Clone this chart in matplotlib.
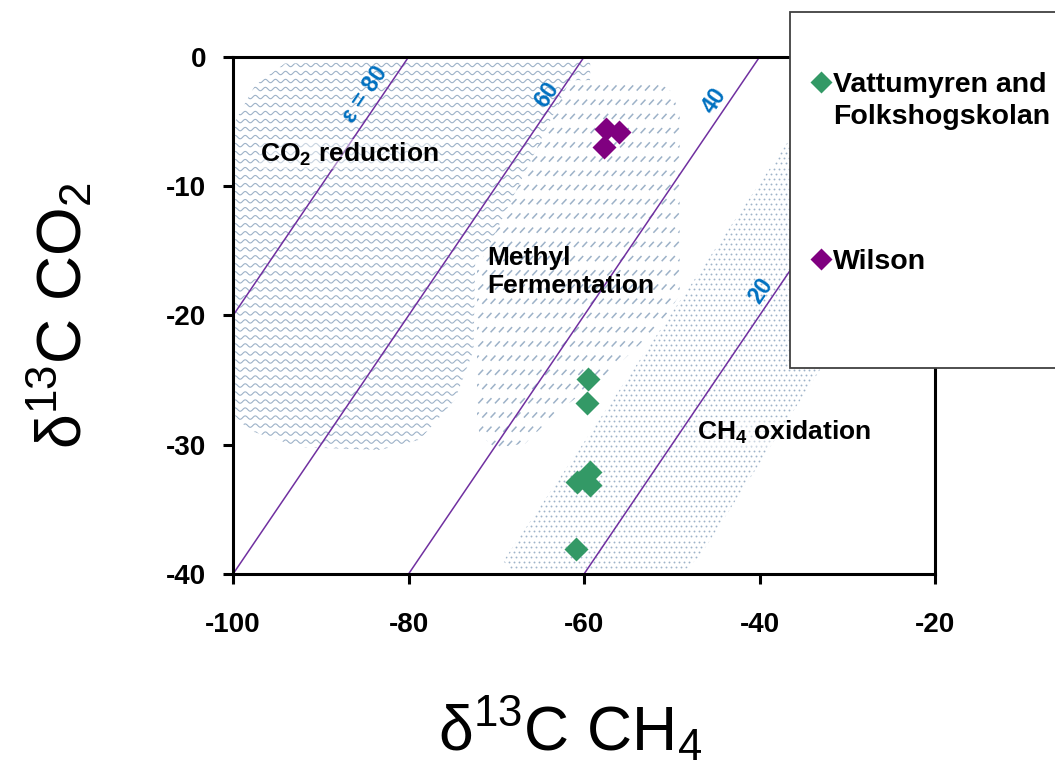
import numpy as np
import matplotlib
matplotlib.use("Agg")
import matplotlib.pyplot as plt
from matplotlib.patches import Polygon, Rectangle
from matplotlib.collections import LineCollection
from matplotlib.lines import Line2D

plt.rcParams["font.family"] = ["Liberation Sans", "DejaVu Sans"]
plt.rcParams["mathtext.default"] = "regular"
plt.rcParams["axes.unicode_minus"] = False

# samples: d13C CH4 (x) and d13C CO2 (y)
vf_ch4 = [-59.5, -59.7, -59.3, -60.8, -59.3, -60.9]
vf_co2 = [-24.9, -26.8, -32.1, -32.9, -33.1, -38.1]
wilson_ch4 = [-57.5, -56.0, -57.7]
wilson_co2 = [-5.6, -5.8, -7.0]

# fractionation lines, CO2 = CH4 + eps
eps_values = [80, 60, 40, 20]
eps_labels = ["\u03b5 = 80", "60", "40", "20"]
eps_label_x = [-85.0, -64.2, -45.2, -39.8]
eps_label_y = [-2.9, -2.9, -3.4, -18.1]

# process fields, outlines
co2_red_x = [-100.5, -99.7, -97.5, -94.1, -59.3, -59.3, -72.4, -72.6, -74.7, -78.7, -83.2, -92.4, -98.1, -100.5]
co2_red_y = [-4.9, -4.9, -2.2, -0.5, -0.2, -7.2, -15.7, -22.7, -26.5, -29.6, -30.4, -30.2, -28.9, -27.3]
methyl_x = [-61.6, -51.9, -50.0, -49.1, -49.1, -51.3, -56.7, -63.1, -66.7, -70.1, -71.9, -72.2, -72.2]
methyl_y = [-1.8, -1.8, -2.7, -4.5, -18.4, -20.7, -24.2, -27.5, -29.9, -30.25, -29.2, -28.1, -16.5]
oxid_x = [-69.2, -68.3, -48.5, -46.8, -33.3, -18.0, -18.0, -33.0, -36.5]
oxid_y = [-39.0, -39.7, -39.7, -38.6, -24.4, -8.0, -3.0, -3.0, -6.3]

x_ticks = [-100, -80, -60, -40, -20]
y_ticks = [0, -10, -20, -30, -40]

green = "#339966"
purple = "#800080"
line_col = "#7030A0"
label_blue = "#0070C0"
tex_col = "#9DB2C8"

fig = plt.figure(figsize=(10.55, 7.72), dpi=100)
ax = fig.add_axes([0.2209, 0.2565, 0.6654, 0.6697])
ax.set_xlim(-100, -20)
ax.set_ylim(-40, 0)

# CO2 reduction field: wavy texture
co2_patch = Polygon(np.column_stack([co2_red_x, co2_red_y]), closed=True,
                    facecolor="none", edgecolor="none", zorder=1)
ax.add_patch(co2_patch)
xs = np.linspace(-101, -58, 900)
waves = [np.column_stack([xs, y0 + 0.13 * np.sin(2 * np.pi * xs / 1.15)])
         for y0 in np.arange(-31, 0.5, 0.62)]
lc = LineCollection(waves, colors=tex_col, linewidths=0.8, zorder=1.1)
ax.add_collection(lc)
lc.set_clip_path(co2_patch)

# methyl fermentation field: white fill + slanted dashes
methyl_patch = Polygon(np.column_stack([methyl_x, methyl_y]), closed=True,
                       facecolor="white", edgecolor="none", zorder=1.3)
ax.add_patch(methyl_patch)
dashes = []
for i, y0 in enumerate(np.arange(-31, -1, 1.1)):
    for x0 in np.arange(-73, -48, 0.95) + (i % 2) * 0.45:
        dashes.append([(x0, y0 - 0.2), (x0 + 0.55, y0 + 0.2)])
dc = LineCollection(dashes, colors=tex_col, linewidths=1.1, zorder=1.4)
ax.add_collection(dc)
dc.set_clip_path(methyl_patch)

# CH4 oxidation field: dots
oxid_patch = Polygon(np.column_stack([oxid_x, oxid_y]), closed=True,
                     facecolor="none", edgecolor="none", zorder=1)
ax.add_patch(oxid_patch)
gx, gy = np.meshgrid(np.arange(-72, -15, 0.57), np.arange(-41, 0, 0.39))
gx[::2] += 0.285
sc = ax.scatter(gx.ravel(), gy.ravel(), s=1.8, c=tex_col, linewidths=0, zorder=1.5)
sc.set_clip_path(oxid_patch)

# epsilon lines
xl = np.array([-100, -20])
for eps in eps_values:
    ax.plot(xl, xl + eps, color=line_col, lw=1.1, zorder=2)
for lab, lx, ly in zip(eps_labels, eps_label_x, eps_label_y):
    ax.text(lx, ly, lab, color=label_blue, fontsize=16.5, fontweight="bold",
            rotation=56, ha="center", va="center", zorder=3)

txt_box = dict(facecolor="white", alpha=0.45, edgecolor="none", pad=1)
ax.text(-96.9, -8.1, "CO$_2$ reduction", fontsize=19, fontweight="bold",
        va="baseline", zorder=3, bbox=txt_box)
ax.text(-71.05, -14.6, "Methyl\nFermentation", fontsize=19, fontweight="bold",
        va="top", linespacing=1.25, zorder=3)
ax.text(-47.1, -29.6, "CH$_4$ oxidation", fontsize=19, fontweight="bold",
        va="baseline", zorder=3, bbox=txt_box)

h_vf, = ax.plot(vf_ch4, vf_co2, "D", color=green, ms=12, mec="none", zorder=4)
h_w, = ax.plot(wilson_ch4, wilson_co2, "D", color=purple, ms=12, mec="none", zorder=4)

ax.set_xticks(x_ticks)
ax.set_yticks(y_ticks)
ax.tick_params(direction="out", length=7.5, width=2.2, labelsize=20)
ax.tick_params(axis="x", pad=20)
ax.tick_params(axis="y", pad=12)
for lab in ax.get_xticklabels() + ax.get_yticklabels():
    lab.set_fontweight("bold")
for sp in ax.spines.values():
    sp.set_linewidth(2.2)

ax.set_xlabel("\u03b4$^{13}$C CH$_4$", fontsize=45)
ax.set_ylabel("\u03b4$^{13}$C CO$_2$", fontsize=45)
ax.xaxis.set_label_coords(0.48, -0.235)
ax.yaxis.set_label_coords(-0.197, 0.5)

# legend box sticking out of the figure on the right
box = Rectangle((0.7488, 0.5233), 0.4, 0.4612, transform=fig.transFigure,
                facecolor="white", edgecolor="#404040", lw=1.3, clip_on=False, zorder=4.5)
ax.add_artist(box)

blank = Line2D([], [], linestyle="none", marker=None)
leg_prop = dict(weight="bold", size=20.5)
leg1 = ax.legend([h_vf, blank], ["Vattumyren and", "Folkshogskolan"], loc="center left",
                 bbox_to_anchor=(0.7695, 0.8692), bbox_transform=fig.transFigure,
                 frameon=False, prop=leg_prop, handlelength=0.65, handletextpad=0.1,
                 labelspacing=0.2, borderpad=0, borderaxespad=0, markerscale=0.95)
ax.add_artist(leg1)
leg2 = ax.legend([h_w], ["Wilson"], loc="center left",
                 bbox_to_anchor=(0.7695, 0.6606), bbox_transform=fig.transFigure,
                 frameon=False, prop=leg_prop, handlelength=0.65, handletextpad=0.1,
                 borderpad=0, borderaxespad=0, markerscale=0.95)
leg1.set_zorder(5)
leg2.set_zorder(5)

fig.savefig("out.png", dpi=100)
